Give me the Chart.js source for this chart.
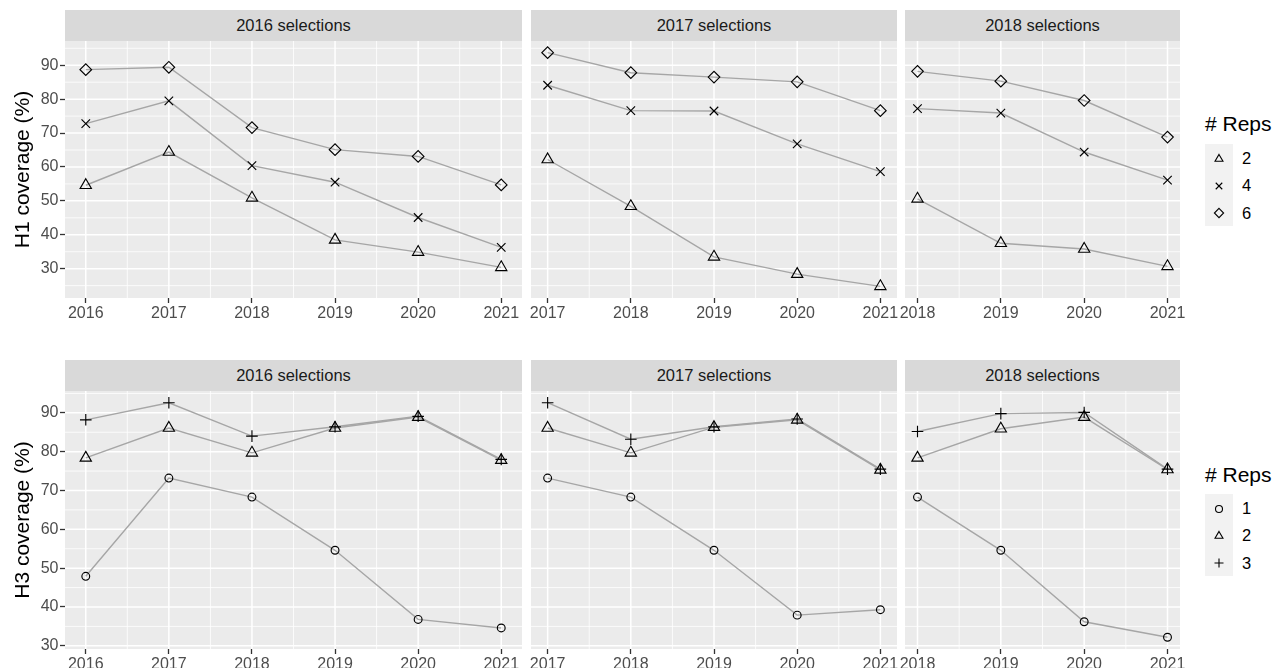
<!DOCTYPE html>
<html><head><meta charset="utf-8">
<script src="https://cdn.jsdelivr.net/npm/chart.js@4.4.1/dist/chart.umd.min.js"></script>
<style>
html,body{margin:0;padding:0;background:#fff}
body{width:1275px;height:668px;overflow:hidden;position:relative;font-family:"Liberation Sans",Arial,Helvetica,sans-serif}
canvas{position:absolute}
.strip{position:absolute;background:#D9D9D9;color:#1A1A1A;font-size:16.5px;display:flex;align-items:center;justify-content:center;white-space:nowrap}
.ltitle{position:absolute;font-size:21px;color:#000;line-height:1;white-space:nowrap}
.lbox{position:absolute;background:#F2F2F2}
.llab{position:absolute;font-size:16.5px;color:#000;line-height:1;white-space:nowrap}
svg{position:absolute;overflow:visible}
</style></head><body>
<script>
// ---------- data ----------
const panelTitles = ['2016 selections', '2017 selections', '2018 selections'];
const years2016 = [2016, 2017, 2018, 2019, 2020, 2021];
const years2017 = [2017, 2018, 2019, 2020, 2021];
const years2018 = [2018, 2019, 2020, 2021];
const yTicks = [30, 40, 50, 60, 70, 80, 90];
const h1Title = 'H1 coverage (%)';
const h3Title = 'H3 coverage (%)';
const legendTitle = '# Reps';
const h1Reps = ['2', '4', '6'];
const h3Reps = ['1', '2', '3'];

// H1 coverage, by selection year panel, by # reps
const h1_2016_r2 = [54.6, 64.4, 50.9, 38.5, 34.9, 30.4];
const h1_2016_r4 = [72.8, 79.5, 60.4, 55.5, 45.1, 36.3];
const h1_2016_r6 = [88.7, 89.4, 71.6, 65.1, 63.1, 54.7];
const h1_2017_r2 = [62.2, 48.4, 33.5, 28.4, 24.8];
const h1_2017_r4 = [84.1, 76.6, 76.5, 66.8, 58.6];
const h1_2017_r6 = [93.7, 87.8, 86.5, 85.1, 76.6];
const h1_2018_r2 = [50.6, 37.5, 35.8, 30.7];
const h1_2018_r4 = [77.2, 75.9, 64.4, 56.1];
const h1_2018_r6 = [88.2, 85.3, 79.6, 68.8];

// H3 coverage
const h3_2016_r1 = [47.9, 73.2, 68.3, 54.6, 36.8, 34.6];
const h3_2016_r2 = [78.4, 86.1, 79.7, 86.1, 88.9, 77.8];
const h3_2016_r3 = [88.2, 92.6, 84.0, 86.4, 89.1, 78.0];
const h3_2017_r1 = [73.2, 68.3, 54.6, 37.9, 39.3];
const h3_2017_r2 = [86.1, 79.7, 86.3, 88.2, 75.3];
const h3_2017_r3 = [92.6, 83.2, 86.4, 88.4, 75.5];
const h3_2018_r1 = [68.3, 54.6, 36.2, 32.2];
const h3_2018_r2 = [78.4, 85.9, 88.9, 75.4];
const h3_2018_r3 = [85.2, 89.8, 90.1, 75.5];

// ---------- layout / style ----------
const FONT = '"Liberation Sans", Arial, Helvetica, sans-serif';
const panelX = [[65, 522], [531, 897], [905, 1180]];
const panelYears = [years2016, years2017, years2018];
const LINE_COL = '#A6A6A6';

const rows = [
  { top: 41, bottom: 297.5, stripTop: 10, title: h1Title, reps: h1Reps,
    shapes: [{s: 'triangle', r: 6.5, lr: 4.6}, {s: 'crossRot', r: 6.0, lr: 4.6}, {s: 'rectRot', r: 5.8, lr: 4.6}],
    data: [[h1_2016_r2, h1_2016_r4, h1_2016_r6], [h1_2017_r2, h1_2017_r4, h1_2017_r6], [h1_2018_r2, h1_2018_r4, h1_2018_r6]],
    legend: { titleY: 123.5, boxTop: 144, keyH: 27.3 } },
  { top: 390.5, bottom: 648, stripTop: 360, title: h3Title, reps: h3Reps,
    shapes: [{s: 'circle', r: 3.9, lr: 3.5}, {s: 'triangle', r: 6.5, lr: 4.6}, {s: 'cross', r: 5.8, lr: 4.5}],
    data: [[h3_2016_r1, h3_2016_r2, h3_2016_r3], [h3_2017_r1, h3_2017_r2, h3_2017_r3], [h3_2018_r1, h3_2018_r2, h3_2018_r3]],
    legend: { titleY: 474, boxTop: 494, keyH: 27.3 } }
];

function expandRange(vals, frac) {
  const mn = Math.min(...vals), mx = Math.max(...vals), d = mx - mn;
  return [mn - frac * d, mx + frac * d];
}

const panelBg = {
  id: 'panelBg',
  beforeDraw(chart) {
    const {ctx, chartArea: a, scales: {x, y}} = chart;
    ctx.save();
    ctx.fillStyle = '#EBEBEB';
    ctx.fillRect(a.left, a.top, a.right - a.left, a.bottom - a.top);
    ctx.beginPath(); ctx.rect(a.left, a.top, a.right - a.left, a.bottom - a.top); ctx.clip();
    ctx.strokeStyle = '#FFFFFF';
    const xt = x.ticks.map(t => t.value), yt = y.ticks.map(t => t.value);
    const xMinor = [], yMinor = [];
    for (let i = 0; i < xt.length - 1; i++) xMinor.push((xt[i] + xt[i + 1]) / 2);
    const ystep = yt[1] - yt[0];
    yMinor.push(yt[0] - ystep / 2);
    for (let i = 0; i < yt.length; i++) yMinor.push(yt[i] + ystep / 2);
    ctx.lineWidth = 0.8;
    ctx.beginPath();
    xMinor.forEach(v => { const p = x.getPixelForValue(v); ctx.moveTo(p, a.top); ctx.lineTo(p, a.bottom); });
    yMinor.forEach(v => { const p = y.getPixelForValue(v); ctx.moveTo(a.left, p); ctx.lineTo(a.right, p); });
    ctx.stroke();
    ctx.lineWidth = 1.5;
    ctx.beginPath();
    xt.forEach(v => { const p = x.getPixelForValue(v); ctx.moveTo(p, a.top); ctx.lineTo(p, a.bottom); });
    yt.forEach(v => { const p = y.getPixelForValue(v); ctx.moveTo(a.left, p); ctx.lineTo(a.right, p); });
    ctx.stroke();
    ctx.restore();
  }
};

function addDiv(cls, text, css) {
  const d = document.createElement('div');
  d.className = cls; if (text !== null) d.textContent = text;
  Object.assign(d.style, css);
  document.body.appendChild(d);
  return d;
}

function svgShape(shape, cx, cy) {
  const ns = 'http://www.w3.org/2000/svg';
  const svg = document.createElementNS(ns, 'svg');
  svg.setAttribute('width', 20); svg.setAttribute('height', 20);
  svg.style.left = (cx - 10) + 'px'; svg.style.top = (cy - 10) + 'px';
  const g = document.createElementNS(ns, 'g');
  g.setAttribute('transform', 'translate(10,10)');
  g.setAttribute('fill', 'none'); g.setAttribute('stroke', '#000'); g.setAttribute('stroke-width', '1.1');
  let el;
  const r = shape.lr;
  if (shape.s === 'circle') { el = document.createElementNS(ns, 'circle'); el.setAttribute('r', r); }
  else if (shape.s === 'triangle') { el = document.createElementNS(ns, 'polygon'); el.setAttribute('points', `0,${-r} ${r*0.866},${r/2} ${-r*0.866},${r/2}`); }
  else if (shape.s === 'rectRot') { el = document.createElementNS(ns, 'polygon'); el.setAttribute('points', `0,${-r} ${r},0 0,${r} ${-r},0`); }
  else if (shape.s === 'crossRot') { el = document.createElementNS(ns, 'path'); const k = r * 0.7071; el.setAttribute('d', `M${-k},${-k}L${k},${k}M${-k},${k}L${k},${-k}`); }
  else { el = document.createElementNS(ns, 'path'); el.setAttribute('d', `M${-r},0L${r},0M0,${-r}L0,${r}`); }
  g.appendChild(el); svg.appendChild(g);
  document.body.appendChild(svg);
}

rows.forEach(row => {
  const allVals = row.data.flat(2);
  const [yMin, yMax] = expandRange(allVals, 0.05);
  panelX.forEach(([L, R], p) => {
    const years = panelYears[p];
    const [xMin, xMax] = expandRange(years, 0.05);
    // strip
    addDiv('strip', panelTitles[p], { left: L + 'px', top: row.stripTop + 'px', width: (R - L) + 'px', height: (row.top - row.stripTop) + 'px' });
    // canvas
    const PAD = 14, PADT = 12, XAX = 34, YAX = 65;
    const cLeft = p === 0 ? 0 : L - PAD;
    const cTop = row.top - PADT;
    const cw = (R - cLeft) + PAD;
    const ch = (row.bottom - cTop) + XAX;
    const cv = document.createElement('canvas');
    cv.width = cw; cv.height = Math.round(ch);
    cv.style.left = cLeft + 'px'; cv.style.top = cTop + 'px';
    document.body.appendChild(cv);

    const datasets = [];
    row.data[p].forEach((vals, i) => {
      const pts = years.map((yr, j) => ({x: yr, y: vals[j]}));
      datasets.push({ data: pts, order: 2, borderColor: LINE_COL, borderWidth: 1.4, pointRadius: 0, tension: 0, fill: false, clip: false });
    });
    row.data[p].forEach((vals, i) => {
      const pts = years.map((yr, j) => ({x: yr, y: vals[j]}));
      const sh = row.shapes[i];
      datasets.push({ data: pts, order: 1, showLine: false, pointStyle: sh.s, pointRadius: sh.r,
        pointBorderColor: '#000', pointBackgroundColor: 'rgba(0,0,0,0)', pointBorderWidth: 1.15, clip: false });
    });

    new Chart(cv, {
      type: 'line',
      data: { datasets },
      plugins: [panelBg],
      options: {
        responsive: false, animation: false, events: [],
        layout: { padding: { left: p === 0 ? 0 : PAD, right: PAD, top: PADT, bottom: 0 } },
        plugins: { legend: { display: false }, tooltip: { enabled: false } },
        scales: {
          x: {
            type: 'linear', position: 'bottom', min: xMin, max: xMax,
            afterBuildTicks: s => { s.ticks = years.map(v => ({value: v})); },
            afterFit: s => { s.height = XAX; },
            border: { display: false },
            grid: { drawOnChartArea: false, drawTicks: true, tickLength: 5, tickColor: '#333333', tickWidth: 1.3 },
            ticks: { color: '#4D4D4D', font: { family: FONT, size: 16 }, padding: 1, maxRotation: 0, autoSkip: false,
                     callback: v => String(v) }
          },
          y: {
            type: 'linear', position: 'left', min: yMin, max: yMax, display: p === 0,
            afterBuildTicks: s => { s.ticks = yTicks.map(v => ({value: v})); },
            afterFit: s => { s.width = p === 0 ? YAX : 0; },
            border: { display: false },
            grid: { drawOnChartArea: false, drawTicks: true, tickLength: 5, tickColor: '#333333', tickWidth: 1.3 },
            ticks: { color: '#4D4D4D', font: { family: FONT, size: 16 }, padding: 1.5, callback: v => String(v) },
            title: { display: true, text: row.title, color: '#000', font: { family: FONT, size: 21 }, padding: { top: 10.5, bottom: 0 } }
          }
        }
      }
    });
  });

  // legend
  const lg = row.legend;
  addDiv('ltitle', legendTitle, { left: '1205px', top: (lg.titleY - 10.2) + 'px' });
  addDiv('lbox', null, { left: '1205px', top: lg.boxTop + 'px', width: '28px', height: (lg.keyH * 3) + 'px' });
  row.reps.forEach((lab, i) => {
    const cy = lg.boxTop + lg.keyH * (i + 0.5) + 1;
    svgShape(row.shapes[i], 1218.5, cy);
    addDiv('llab', lab, { left: '1242px', top: (cy - 8.5) + 'px' });
  });
});
</script>
</body></html>
